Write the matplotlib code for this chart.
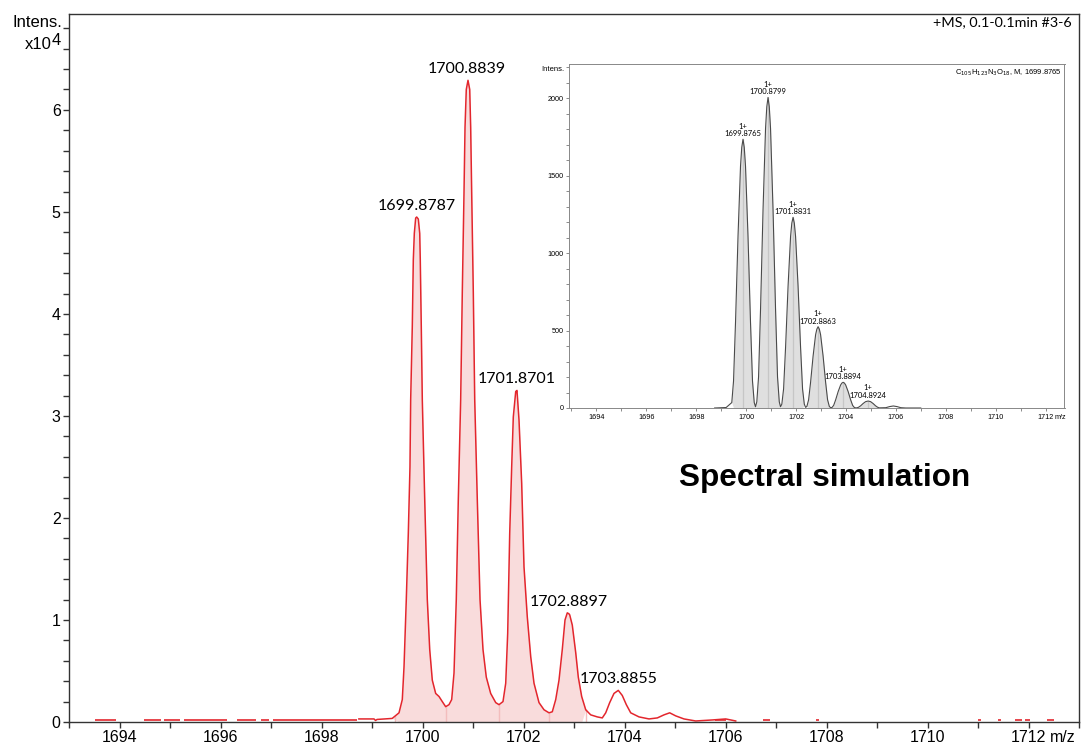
import numpy as np
import matplotlib
matplotlib.use("Agg")
import matplotlib.pyplot as plt
from matplotlib.ticker import MultipleLocator

plt.rcParams["font.family"] = ["Liberation Sans", "DejaVu Sans"]

# measured profile, m/z vs intensity (x10^4)
mz = [1698.74, 1699.04, 1699.07, 1699.10, 1699.40, 1699.535, 1699.60, 1699.634, 1699.679, 1699.719,
      1699.752, 1699.766, 1699.798, 1699.818, 1699.838, 1699.865, 1699.885, 1699.917, 1699.945, 1699.956,
      1699.976, 1699.996, 1700.044, 1700.095, 1700.143, 1700.194, 1700.261, 1700.327, 1700.392, 1700.459,
      1700.525, 1700.578, 1700.624, 1700.669, 1700.709, 1700.756, 1700.788, 1700.822, 1700.842, 1700.867,
      1700.901, 1700.935, 1700.954, 1700.974, 1701.006, 1701.034, 1701.085, 1701.139, 1701.198, 1701.263,
      1701.350, 1701.450, 1701.515, 1701.594, 1701.648, 1701.687, 1701.727, 1701.766, 1701.798, 1701.846,
      1701.871, 1701.911, 1701.964, 1702.010, 1702.075, 1702.143, 1702.208, 1702.307, 1702.406, 1702.505,
      1702.570, 1702.638, 1702.703, 1702.768, 1702.822, 1702.867, 1702.901, 1702.915, 1702.966, 1703.034,
      1703.085, 1703.152, 1703.232, 1703.331, 1703.461, 1703.560, 1703.628, 1703.707, 1703.792, 1703.877,
      1703.956, 1704.036, 1704.123, 1704.287, 1704.485, 1704.650, 1704.782, 1704.895, 1705.014, 1705.178,
      1705.410, 1705.739, 1706.004, 1706.202]
intens = [0.03, 0.03, 0.015, 0.025, 0.035, 0.09, 0.22, 0.54, 1.20, 1.85,
          2.50, 3.16, 3.88, 4.53, 4.79, 4.94, 4.95, 4.93, 4.79, 4.53,
          3.87, 3.16, 2.18, 1.20, 0.71, 0.41, 0.28, 0.25, 0.20, 0.15,
          0.17, 0.22, 0.48, 1.20, 2.18, 3.16, 4.21, 5.19, 5.83, 6.20,
          6.29, 6.20, 5.83, 5.19, 4.21, 3.16, 2.18, 1.20, 0.71, 0.44,
          0.28, 0.19, 0.17, 0.20, 0.38, 0.87, 1.85, 2.50, 2.99, 3.24,
          3.25, 2.96, 2.34, 1.52, 1.03, 0.64, 0.38, 0.19, 0.12, 0.09,
          0.10, 0.22, 0.41, 0.71, 1.00, 1.07, 1.06, 1.05, 0.95, 0.68,
          0.44, 0.25, 0.12, 0.07, 0.05, 0.04, 0.09, 0.19, 0.28, 0.31,
          0.26, 0.17, 0.09, 0.05, 0.03, 0.04, 0.07, 0.09, 0.06, 0.03,
          0.01, 0.02, 0.03, 0.01]

peak_mz = [1699.8787, 1700.8839, 1701.8701, 1702.8897, 1703.8855]
peak_int = [4.95, 6.29, 3.25, 1.07, 0.31]
peak_labels = ["1699.8787", "1700.8839", "1701.8701", "1702.8897", "1703.8855"]

integ_edges = [1699.45, 1700.46, 1701.52, 1702.50, 1703.23]

# baseline noise bits
noise_start = [1693.51, 1694.48, 1694.89, 1695.27, 1696.32, 1696.80, 1697.04,
               1705.80, 1706.74, 1707.80, 1711.00, 1711.40, 1711.73, 1711.93, 1712.37]
noise_end = [1693.93, 1694.82, 1695.20, 1696.12, 1696.70, 1696.97, 1698.71,
             1706.00, 1706.88, 1707.86, 1711.05, 1711.45, 1711.87, 1712.03, 1712.50]

# simulated isotope pattern
sim_mz = [1698.74, 1699.20,
          1699.427, 1699.497, 1699.577, 1699.677, 1699.777, 1699.827, 1699.877, 1699.927, 1699.977,
          1700.077, 1700.177, 1700.257, 1700.327, 1700.378,
          1700.43, 1700.50, 1700.58, 1700.68, 1700.78, 1700.83, 1700.88, 1700.93, 1700.98,
          1701.08, 1701.18, 1701.26, 1701.33, 1701.38,
          1701.433, 1701.503, 1701.583, 1701.683, 1701.783, 1701.833, 1701.883, 1701.933, 1701.983,
          1702.083, 1702.183, 1702.263, 1702.333, 1702.385,
          1702.436, 1702.506, 1702.586, 1702.686, 1702.786, 1702.836, 1702.886, 1702.936, 1702.986,
          1703.086, 1703.186, 1703.266, 1703.336, 1703.39,
          1703.44, 1703.51, 1703.59, 1703.69, 1703.79, 1703.84, 1703.889, 1703.94, 1703.99,
          1704.09, 1704.19, 1704.27, 1704.34, 1704.39,
          1704.44, 1704.51, 1704.59, 1704.69, 1704.79, 1704.892, 1704.99, 1705.09, 1705.19,
          1705.27, 1705.34,
          1705.6, 1705.75, 1705.9, 1706.05, 1706.2, 1706.4, 1707.0]
sim_int = [0, 3,
           35, 174, 555, 1110, 1562, 1683, 1735, 1683, 1562,
           1110, 555, 174, 35, 8,
           40, 201, 642, 1283, 1805, 1945, 2005, 1945, 1805,
           1283, 642, 201, 40, 8,
           25, 123, 394, 788, 1108, 1194, 1231, 1194, 1108,
           788, 394, 123, 25, 4,
           10, 53, 168, 336, 473, 509, 525, 509, 473,
           336, 168, 53, 10, 2,
           3, 17, 53, 106, 149, 161, 166, 161, 149,
           106, 53, 17, 3, 1,
           1, 5, 14, 29, 41, 45, 41, 29, 14,
           5, 1,
           2, 9, 13, 9, 2, 0, 0]

sim_peak_mz = [1699.8765, 1700.8799, 1701.8831, 1702.8863, 1703.8894, 1704.8924]
sim_peak_int = [1735, 2005, 1231, 525, 166, 45]
sim_labels = ["1699.8765", "1700.8799", "1701.8831", "1702.8863", "1703.8894", "1704.8924"]
sim_fill_lo = [1699.43, 1700.43, 1701.43, 1702.44, 1703.44, 1704.44]
sim_fill_hi = [1700.33, 1701.33, 1702.33, 1703.34, 1704.34, 1705.34]

RED = "#e3262d"
PINK = "#f9dcdc"
W, H = 1084, 747

fig = plt.figure(figsize=(W / 100, H / 100), dpi=100)
ax = fig.add_axes([69 / W, 25 / H, 1010 / W, 708 / H])

x = np.array(mz)
y = np.array(intens)
ax.fill_between(x, y, 0, where=(x >= integ_edges[0]) & (x <= integ_edges[-1]),
                color=PINK, lw=0, interpolate=True)
ax.vlines(integ_edges, 0, np.interp(integ_edges, x, y), color="#f3bdbd", lw=1)
ax.hlines([0.015] * len(noise_start), noise_start, noise_end, color=RED, lw=1.2)
ax.plot(x, y, color=RED, lw=1.1)

for m, v, lab in zip(peak_mz, peak_int, peak_labels):
    ax.annotate(lab, (m, v), xytext=(0, 3), textcoords="offset points",
                ha="center", va="bottom", fontsize=11.5, family=["Lato", "DejaVu Sans"])

ax.set_xlim(1693, 1713)
ax.set_ylim(0, 6.94)
ax.set_xticks(np.arange(1694, 1713, 2))
ax.xaxis.set_minor_locator(MultipleLocator(1))
ax.yaxis.set_major_locator(MultipleLocator(1))
ax.yaxis.set_minor_locator(MultipleLocator(0.2))
ax.tick_params(which="both", direction="out", length=4, width=1, color="#333333",
               labelsize=11.5, pad=2)
for s in ax.spines.values():
    s.set_color("#333333")
    s.set_linewidth(1)

ax.text(0.997, -0.012, "m/z", transform=ax.transAxes, ha="right", va="top", fontsize=11.5)
ax.text(0.993, 0.997, "+MS, 0.1-0.1min #3-6", transform=ax.transAxes, ha="right", va="top",
        fontsize=10.4, family=["Lato", "DejaVu Sans"])
fig.text(62 / W, 1 - 22.5 / H, "Intens.", ha="right", va="center", fontsize=12)
fig.text(52 / W, 1 - 49 / H, "x10", ha="right", va="baseline", fontsize=12)
fig.text(52 / W, 1 - 45 / H, "4", ha="left", va="baseline", fontsize=12)
fig.text(825 / W, 1 - 478 / H, "Spectral simulation", ha="center", va="center",
         fontsize=22.7, fontweight="bold")

# inset with simulated pattern
axi = fig.add_axes([569.4 / W, (H - 408) / H, 495.1 / W, 344 / H])
sx = np.array(sim_mz)
sy = np.array(sim_int)
for lo, hi in zip(sim_fill_lo, sim_fill_hi):
    axi.fill_between(sx, sy, 0, where=(sx >= lo) & (sx <= hi), color="#dfdfdf", lw=0, interpolate=True)
axi.vlines(sim_peak_mz, 0, sim_peak_int, color="#c6c6c6", lw=0.9)
axi.plot(sx, sy, color="#4a4a4a", lw=0.8)
for m, v, lab in zip(sim_peak_mz, sim_peak_int, sim_labels):
    axi.annotate("1+\n" + lab, (m, v), xytext=(0, 1.5), textcoords="offset points",
                 ha="center", va="bottom", fontsize=5.5, linespacing=1.1,
                 family=["Lato", "DejaVu Sans"])

axi.set_xlim(1692.92, 1712.76)
axi.set_ylim(0, 2221)
axi.set_xticks(np.arange(1694, 1713, 2))
axi.xaxis.set_minor_locator(MultipleLocator(1))
axi.yaxis.set_major_locator(MultipleLocator(500))
axi.yaxis.set_minor_locator(MultipleLocator(100))
axi.tick_params(which="both", direction="out", length=2.5, width=0.6, color="#777777",
                labelsize=5.2, pad=1.5)
for s in axi.spines.values():
    s.set_color("#888888")
    s.set_linewidth(0.7)
axi.annotate("m/z", xy=(1712, 0), xycoords=("data", "axes fraction"), xytext=(6.3, -4.1),
             textcoords="offset points", ha="left", va="top", fontsize=5.2)
axi.text(-0.01, 0.995, "Intens.", transform=axi.transAxes, ha="right", va="top", fontsize=5.5)
axi.text(0.995, 0.99, r"C$_{105}$H$_{123}$N$_3$O$_{18}$, M, 1699.8765", transform=axi.transAxes,
         ha="right", va="top", fontsize=5.5)

fig.savefig("out.png", dpi=100)
